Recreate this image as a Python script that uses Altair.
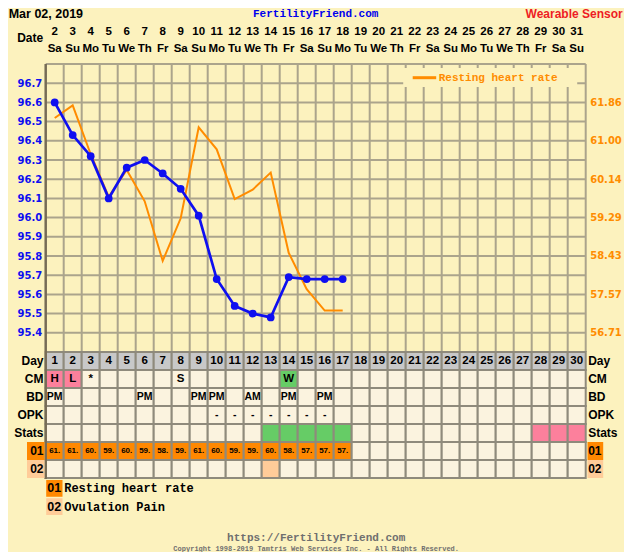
import altair as alt
import pandas as pd

# ---------------- data ----------------
dates = list(range(2, 32))
weekdays = ["Sa", "Su", "Mo", "Tu", "We", "Th", "Fr", "Sa", "Su", "Mo", "Tu", "We", "Th", "Fr", "Sa",
            "Su", "Mo", "Tu", "We", "Th", "Fr", "Sa", "Su", "Mo", "Tu", "We", "Th", "Fr", "Sa", "Su"]
cycle_days = list(range(1, 31))
temps = [96.60, 96.43, 96.32, 96.10, 96.26, 96.30, 96.23, 96.15, 96.01,
         95.68, 95.54, 95.50, 95.48, 95.69, 95.68, 95.68, 95.68]
heart_rate = [61.51, 61.79, 60.70, 59.75, 60.35, 59.65, 58.32, 59.27, 61.30,
              60.81, 59.70, 59.91, 60.29, 58.50, 57.69, 57.21, 57.21]
temp_ticks = [95.4, 95.5, 95.6, 95.7, 95.8, 95.9, 96.0, 96.1, 96.2, 96.3, 96.4, 96.5, 96.6, 96.7]
temp_range = [95.3, 96.8]
hr_ticks = [56.71, 57.57, 58.43, 59.29, 60.14, 61.00, 61.86]
hr_range = [56.2857, 62.7143]
rows = ["Day", "CM", "BD", "OPK", "Stats", "01", "02"]
cm_days = [1, 2, 3, 8, 14]
cm_marks = ["H", "L", "*", "S", "W"]
cm_pink_days = [1, 2]
cm_green_days = [14]
bd_days = [1, 6, 9, 10, 12, 14, 16]
bd_marks = ["PM", "PM", "PM", "PM", "AM", "PM", "PM"]
opk_days = [10, 11, 12, 13, 14, 15, 16]
opk_marks = ["-", "-", "-", "-", "-", "-", "-"]
stats_green_days = [13, 14, 15, 16, 17]
stats_pink_days = [28, 29, 30]
pain_days = [13]
legend_codes = ["01", "02"]
legend_names = ["Resting heart rate", "Ovulation Pain"]

# ---------------- styles ----------------
BG = "#fcf2be"
GRID = "#aba48c"
BLUE = "#0f0ff0"
ORANGE = "#ff8c00"
SANS = "Liberation Sans"
AXF = "DejaVu Sans"
MONO = "Liberation Mono"
kind_domain = ["plain", "gray", "pink", "green", "orange", "peach"]
kind_colors = ["#fbf3df", "#c8c8c8", "#fc809c", "#66cc66", "#ff8800", "#ffcc99"]
fill_scale = alt.Scale(domain=kind_domain, range=kind_colors)

x_scale = alt.Scale(domain=[0.5, 30.5], nice=False, zero=False)
temp_scale = alt.Scale(domain=temp_range, nice=False, zero=False)
hr_scale = alt.Scale(domain=hr_range, nice=False, zero=False)
row_scale = alt.Scale(type="band", domain=rows, range=[288, 414], paddingInner=0, paddingOuter=0)
X = alt.X("day:Q", scale=x_scale, axis=None)
one = pd.DataFrame({"k": [0]})

# ---------------- tables ----------------
days_df = pd.DataFrame({"day": cycle_days, "date": dates, "wd": weekdays})
temp_df = pd.DataFrame({"day": cycle_days[:len(temps)], "temp": temps})
hr_df = pd.DataFrame({"day": cycle_days[:len(heart_rate)], "hr": heart_rate})
hgrid_df = pd.DataFrame({"t": [temp_range[0]] + temp_ticks + [temp_range[1]]})

cells = []
for r in rows:
    for d in cycle_days:
        k = "plain"
        if r == "Day":
            k = "gray"
        elif r == "CM":
            k = "pink" if d in cm_pink_days else ("green" if d in cm_green_days else "plain")
        elif r == "Stats":
            k = "green" if d in stats_green_days else ("pink" if d in stats_pink_days else "plain")
        elif r == "01":
            k = "orange" if d <= len(heart_rate) else "plain"
        elif r == "02":
            k = "peach" if d in pain_days else "plain"
        cells.append({"row": r, "day": d, "kind": k})
cells_df = pd.DataFrame(cells)

day_txt = pd.DataFrame({"row": "Day", "day": cycle_days, "label": [str(d) for d in cycle_days]})
cm_txt = pd.DataFrame({"row": "CM", "day": cm_days, "label": cm_marks})
bd_txt = pd.DataFrame({"row": "BD", "day": bd_days, "label": bd_marks})
opk_txt = pd.DataFrame({"row": "OPK", "day": opk_days, "label": opk_marks})
hr_txt = pd.DataFrame({"row": "01", "day": cycle_days[:len(heart_rate)], "hr": heart_rate})
rowlab_df = pd.DataFrame({"row": rows,
                          "kind": ["none", "none", "none", "none", "none", "orange", "peach"]})
leg_df = pd.DataFrame({"code": legend_codes, "name": legend_names, "kind": ["orange", "peach"]})

# ---------------- layers ----------------
vgrid = alt.Chart(days_df).transform_calculate(b="datum.day + 0.5").mark_rule(
    color=GRID, strokeWidth=2).encode(x=alt.X("b:Q", scale=x_scale, axis=None))
hgrid = alt.Chart(hgrid_df).mark_rule(color=GRID, strokeWidth=2).encode(
    y=alt.Y("t:Q", scale=temp_scale, axis=None))

leg_box = alt.Chart(one).mark_rect(color=BG).encode(
    x=alt.value(357.5), x2=alt.value(531.5), y=alt.value(4), y2=alt.value(23))
leg_line = alt.Chart(one).mark_rule(color=ORANGE, strokeWidth=3).encode(
    x=alt.value(367), x2=alt.value(390.5), y=alt.value(13.7))
leg_text = alt.Chart(one).mark_text(text="Resting heart rate", font=MONO, fontWeight="bold",
                                    fontSize=11, color=ORANGE, align="left", baseline="middle").encode(
    x=alt.value(393), y=alt.value(13.5))

hr_line = alt.Chart(hr_df).mark_line(color=ORANGE, strokeWidth=2).encode(
    x=X,
    y=alt.Y("hr:Q", scale=hr_scale,
            axis=alt.Axis(orient="right", values=hr_ticks, format=".2f", labelColor=ORANGE,
                          labelFont=AXF, labelFontWeight="bold", labelFontSize=10,
                          grid=False, ticks=False, domain=False, title=None, labelPadding=4)))

temp_line = alt.Chart(temp_df).mark_line(color=BLUE, strokeWidth=2.7).encode(
    x=X,
    y=alt.Y("temp:Q", scale=temp_scale,
            axis=alt.Axis(orient="left", values=temp_ticks, format=".1f", labelColor=BLUE,
                          labelFont=AXF, labelFontWeight="bold", labelFontSize=10,
                          grid=False, ticks=False, domain=False, title=None, labelPadding=4)))
temp_pts = alt.Chart(temp_df).mark_circle(color=BLUE, size=60, opacity=1).encode(
    x=X, y=alt.Y("temp:Q", scale=temp_scale, axis=None))

cell_rects = alt.Chart(cells_df).transform_calculate(
    x0="datum.day - 0.5", x1="datum.day + 0.5").mark_rect(
    stroke="#8f8a7c", strokeWidth=2).encode(
    x=alt.X("x0:Q", scale=x_scale, axis=None), x2="x1:Q",
    y=alt.Y("row:N", scale=row_scale, axis=None),
    fill=alt.Fill("kind:N", scale=fill_scale, legend=None))

left_axis_line = alt.Chart(one).mark_rule(color="#766c56", strokeWidth=2.5).encode(
    x=alt.value(0), y=alt.value(0), y2=alt.value(415))


def cell_text(df, size, text_field="label:N"):
    return alt.Chart(df).mark_text(font=SANS, fontWeight="bold", fontSize=size, color="black",
                                   baseline="middle").encode(
        x=X, y=alt.Y("row:N", scale=row_scale, axis=None), text=text_field)


t_day = cell_text(day_txt, 11.5)
t_cm = cell_text(cm_txt, 11.5)
t_bd = cell_text(bd_txt, 10.5)
t_opk = cell_text(opk_txt, 10.5)
t_hr = alt.Chart(hr_txt).transform_calculate(label="floor(datum.hr) + '.'").mark_text(
    font=SANS, fontWeight="bold", fontSize=8, color="black", baseline="middle").encode(
    x=X, y=alt.Y("row:N", scale=row_scale, axis=None), text="label:N")

lab_boxes_l = alt.Chart(rowlab_df).transform_filter("datum.kind != 'none'").mark_rect().encode(
    x=alt.value(-18.7), x2=alt.value(-1.2), y=alt.Y("row:N", scale=row_scale, axis=None),
    fill=alt.Fill("kind:N", scale=fill_scale, legend=None))
lab_boxes_r = alt.Chart(rowlab_df).transform_filter("datum.kind != 'none'").mark_rect().encode(
    x=alt.value(541.8), x2=alt.value(557.5), y=alt.Y("row:N", scale=row_scale, axis=None),
    fill=alt.Fill("kind:N", scale=fill_scale, legend=None))
lab_l = alt.Chart(rowlab_df).mark_text(font=SANS, fontWeight="bold", fontSize=12, color="black",
                                       align="right", baseline="middle").encode(
    x=alt.value(-2.2), y=alt.Y("row:N", scale=row_scale, axis=None), text="row:N")
lab_r = alt.Chart(rowlab_df).mark_text(font=SANS, fontWeight="bold", fontSize=12, color="black",
                                       align="left", baseline="middle").encode(
    x=alt.value(542.5), y=alt.Y("row:N", scale=row_scale, axis=None), text="row:N")

hdr_dates = alt.Chart(days_df).mark_text(font=SANS, fontWeight="bold", fontSize=11.5,
                                         color="black", baseline="middle").encode(
    x=X, y=alt.value(-32), text="date:N")
hdr_wd = alt.Chart(days_df).mark_text(font=SANS, fontWeight="bold", fontSize=11.5,
                                      color="black", baseline="middle").encode(
    x=X, y=alt.value(-15), text="wd:N")
hdr_date_lab = alt.Chart(one).mark_text(text="Date", font=SANS, fontWeight="bold", fontSize=12,
                                        color="black", align="right", baseline="middle").encode(
    x=alt.value(-2.5), y=alt.value(-26))

title_l = alt.Chart(one).mark_text(text="Mar 02, 2019", font=SANS, fontWeight="bold", fontSize=12.5,
                                   color="black", align="left", baseline="middle").encode(
    x=alt.value(-37), y=alt.value(-50))
title_c = alt.Chart(one).mark_text(text="FertilityFriend.com", font=MONO, fontWeight="bold",
                                   fontSize=11, color="#0000ee", align="center",
                                   baseline="middle").encode(x=alt.value(270), y=alt.value(-50))
title_r = alt.Chart(one).mark_text(text="Wearable Sensor", font=SANS, fontWeight="bold",
                                   fontSize=12, color="#ee1d24", align="right",
                                   baseline="middle").encode(x=alt.value(577), y=alt.value(-50))

leg_scale = alt.Scale(type="band", domain=legend_codes, range=[416, 451], paddingInner=0.08,
                      paddingOuter=0)
leg_code_box = alt.Chart(leg_df).mark_rect().encode(
    x=alt.value(0.5), x2=alt.value(16.8), y=alt.Y("code:N", scale=leg_scale, axis=None),
    fill=alt.Fill("kind:N", scale=fill_scale, legend=None))
leg_code_txt = alt.Chart(leg_df).mark_text(font=SANS, fontWeight="bold", fontSize=12.5,
                                           color="black", baseline="middle").encode(
    x=alt.value(8.6), y=alt.Y("code:N", scale=leg_scale, axis=None), text="code:N")
leg_name_txt = alt.Chart(leg_df).mark_text(font=MONO, fontWeight="bold", fontSize=12,
                                           color="black", align="left", baseline="middle").encode(
    x=alt.value(18.5), y=alt.Y("code:N", scale=leg_scale, axis=None), text="name:N")

foot_url = alt.Chart(one).mark_text(text="https://FertilityFriend.com", font=MONO,
                                    fontWeight="bold", fontSize=11, color="#6f6f6f",
                                    baseline="middle").encode(x=alt.value(270.5), y=alt.value(474))
foot_copy = alt.Chart(one).mark_text(
    text="Copyright 1998-2019 Tamtris Web Services Inc. - All Rights Reserved.",
    font=MONO, fontWeight="bold", fontSize=7, color="#6f6f6f",
    baseline="middle").encode(x=alt.value(270.5), y=alt.value(485))

chart = alt.layer(
    vgrid, hgrid, leg_box, leg_line, leg_text,
    hr_line, temp_line, temp_pts,
    cell_rects, left_axis_line,
    t_day, t_cm, t_bd, t_opk, t_hr,
    lab_boxes_l, lab_boxes_r, lab_l, lab_r,
    hdr_dates, hdr_wd, hdr_date_lab,
    title_l, title_c, title_r,
    leg_code_box, leg_code_txt, leg_name_txt,
    foot_url, foot_copy,
).resolve_scale(y="independent").properties(
    width=540, height=288,
    padding={"left": 37.7, "top": 56, "right": 38.3, "bottom": 200},
    autosize=alt.AutoSizeParams(type="none"),
    background=BG,
).configure_view(stroke=None)

chart.save("out.html", embed_options={"renderer": "svg", "actions": False})
